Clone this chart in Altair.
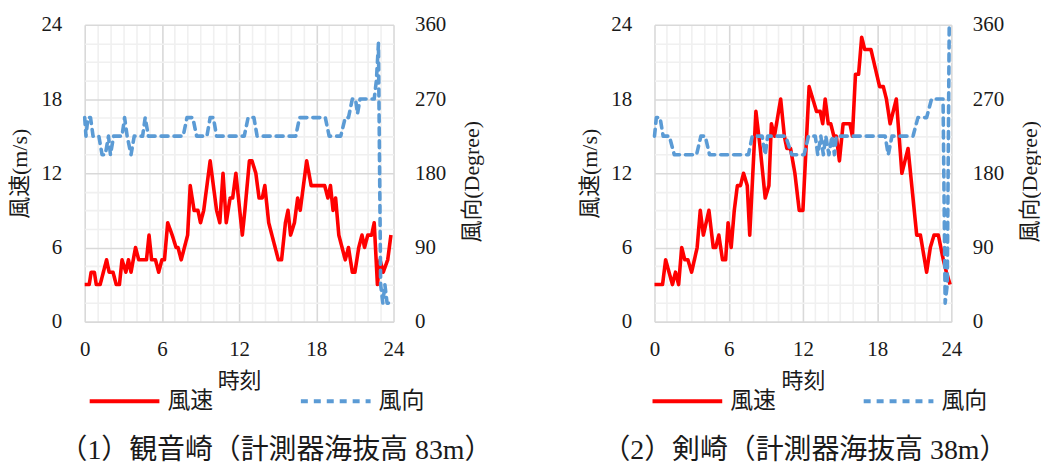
import altair as alt
import pandas as pd

# ---------------- data ----------------
SERIES = ["風速", "風向"]
COLORS = ["#FF0000", "#5B9BD5"]

# (1) 観音崎
t1_speed = [0, 0.35, 0.5, 0.75, 0.9, 1.2, 1.7, 1.9, 2.2, 2.45, 2.7, 2.9, 3.2, 3.4, 3.6,
            3.95, 4.2, 4.8, 5.0, 5.2, 5.5, 5.75, 6.0, 6.2, 6.45, 6.8, 7.1, 7.25, 7.5, 8.0,
            8.2, 8.5, 8.8, 9.0, 9.25, 9.75, 10.25, 10.5, 10.75, 11.0, 11.3, 11.5, 11.75,
            12.25, 12.45, 12.8, 13.0, 13.3, 13.55, 13.8, 14.0, 14.3, 15.05, 15.3, 15.6,
            15.8, 16.0, 16.3, 16.55, 16.75, 17.25, 17.6, 18.65, 18.9, 19.1, 19.3, 19.5,
            19.75, 20.25, 20.5, 20.8, 21.0, 21.3, 21.55, 21.75, 22.0, 22.3, 22.5, 22.75,
            22.95, 23.2, 23.55, 23.8]
v1_speed = [3, 3, 4, 4, 3, 3, 5, 4, 4, 3, 3, 5, 4, 5, 4,
            6, 5, 5, 7, 5, 5, 4, 5, 5, 8, 7, 6, 6, 5, 7,
            11, 9, 9, 8, 9, 13, 9, 8, 12, 8, 10, 10, 12,
            7, 9, 13, 13, 12, 10, 10, 11, 8, 5, 5, 8,
            9, 7, 8, 10, 9, 13, 11, 11, 10, 11, 9, 10,
            7, 5, 6, 4, 4, 6, 7, 6, 7, 7, 8, 3,
            5, 4, 5, 7]
t1_dir = [0, 0.1, 0.25, 0.45, 0.65, 1.1, 1.35, 1.6, 1.85, 2.0, 2.25, 2.9, 3.1, 3.3, 3.6,
          3.85, 4.5, 4.7, 4.95, 7.65, 7.95, 8.4, 8.7, 9.5, 9.75, 10.0, 10.25, 12.4, 12.7,
          13.15, 13.4, 16.4, 16.7, 18.7, 19.0, 19.9, 20.25, 20.5, 20.8, 21.05, 21.2, 21.4,
          22.5, 22.67, 22.83, 23.0, 23.17, 23.33, 23.5, 23.67, 23.83]
d1_dir = [247.5, 225, 247.5, 247.5, 225, 225, 202.5, 202.5, 225, 202.5, 225, 225, 247.5, 225, 202.5,
          225, 225, 247.5, 225, 225, 247.5, 247.5, 225, 225, 247.5, 247.5, 225, 225, 247.5,
          247.5, 225, 225, 247.5, 247.5, 225, 225, 247.5, 247.5, 270, 270, 252, 270,
          270, 292.5, 337.5, 45, 22.5, 45, 22.5, 22.5, 22.5]

# (2) 剣崎
t2_speed = [0, 0.65, 0.9, 1.45, 1.7, 1.95, 2.2, 2.45, 2.7, 3.0, 3.45, 3.7, 3.95, 4.4, 4.75,
            4.95, 5.2, 5.5, 5.75, 5.95, 6.2, 6.45, 6.7, 6.95, 7.2, 7.5, 7.7, 8.2, 8.55, 8.95,
            9.25, 9.45, 9.7, 10.2, 10.5, 10.7, 11.0, 11.35, 11.7, 12.0, 12.5, 12.8, 13.1,
            13.4, 13.6, 13.8, 14.05, 14.25, 14.5, 14.7, 14.95, 15.25, 15.8, 16.0, 16.25,
            16.5, 16.75, 17.0, 17.5, 18.2, 18.5, 18.75, 19.05, 19.55, 20.0, 20.5, 21.2,
            21.5, 22.0, 22.3, 22.6, 22.95, 23.35, 23.6, 23.9]
v2_speed = [3, 3, 5, 3, 4, 3, 6, 5, 5, 4, 6, 9, 7, 9, 6,
            6, 7, 5, 5, 8, 6, 9, 11, 11, 12, 11, 7, 17, 14, 10,
            11, 16, 15, 18, 15, 14, 14, 12, 9, 9, 19, 18, 17,
            17, 16, 18, 16, 16, 15, 15, 13, 16, 16, 15, 20,
            20, 23, 22, 22, 19, 19, 18, 16, 18, 12, 14, 7,
            7, 4, 6, 7, 7, 5, 4, 3]
t2_dir = [0, 0.15, 0.45, 0.7, 1.2, 1.6, 3.4, 3.75, 4.1, 4.45, 7.6, 7.9, 8.7, 8.95, 9.15,
          10.6, 11.1, 12.1, 12.45, 13.0, 13.2, 13.45, 13.65, 13.85, 14.1, 14.35, 14.55,
          14.7, 18.65, 18.9, 19.2, 20.9, 21.3, 22.0, 22.4, 23.33, 23.5, 23.67, 23.83]
d2_dir = [225, 247.5, 247.5, 225, 225, 202.5, 202.5, 225, 225, 202.5, 202.5, 225, 225, 202.5, 225,
          225, 202.5, 202.5, 225, 225, 202.5, 225, 202.5, 225, 202.5, 225, 202.5,
          225, 225, 202.5, 225, 225, 247.5, 247.5, 270, 270, 22.5, 45, 360]

X_TICKS = list(range(0, 25))
Y_TICKS = [i * 1.5 for i in range(17)]
D_TICKS = [0, 90, 180, 270, 360]

CAPTIONS = ["（1）観音崎（計測器海抜高 83m）", "（2）剣崎（計測器海抜高 38m）"]

FONT = "Liberation Serif, Noto Sans CJK JP, serif"
CJK = "Noto Sans CJK JP, sans-serif"
TXT = "#1a1a1a"
MAJOR = "#D9D9D9"
MINOR = "#F0F0F0"


def panel(t_s, v_s, t_d, d_d, width, caption, cap_dx, leg_x):
    df_s = pd.DataFrame({"t": t_s, "v": v_s, "系列": SERIES[0]})
    df_d = pd.DataFrame({"t": t_d, "v": d_d, "系列": SERIES[1]})

    grid_color = alt.condition("datum.value % 6 === 0", alt.value(MAJOR), alt.value(MINOR))
    x_axis = alt.Axis(values=X_TICKS,
                      labelExpr="datum.value % 6 === 0 ? datum.label : ''",
                      grid=True, gridColor=grid_color, gridWidth=1.6,
                      ticks=False, domain=False, labelOverlap=False, labelFlush=False,
                      labelPadding=17, titlePadding=11)
    x = alt.X("t:Q", scale=alt.Scale(domain=[0, 24], nice=False, zero=False),
              axis=x_axis, title="時刻")

    leg = alt.Legend(orient="none", legendX=leg_x, legendY=341, direction="horizontal",
                     symbolType="stroke", symbolSize=4900, symbolStrokeWidth=4,
                     labelFont=CJK, labelFontSize=23, labelColor=TXT,
                     labelOffset=6, columnPadding=80)
    color = alt.Color("系列:N", scale=alt.Scale(domain=SERIES, range=COLORS),
                      legend=leg, title=None)
    dash = alt.StrokeDash("系列:N", scale=alt.Scale(domain=SERIES, range=[[1, 0], [7, 6]]),
                          legend=leg, title=None)

    y_left = alt.Y("v:Q", scale=alt.Scale(domain=[0, 24], nice=False),
                   title="風速(m/s)",
                   axis=alt.Axis(values=Y_TICKS, orient="left",
                                 labelExpr="datum.value % 6 === 0 ? datum.label : ''",
                                 grid=True, gridColor=grid_color, gridWidth=1.6,
                                 ticks=False, domain=False, labelOverlap=False,
                                 labelFlush=False, labelPadding=23, titlePadding=9))
    y_right = alt.Y("v:Q", scale=alt.Scale(domain=[0, 360], nice=False),
                    title="風向(Degree)",
                    axis=alt.Axis(values=D_TICKS, orient="right", grid=False,
                                  ticks=False, domain=False, labelOverlap=False,
                                  labelFlush=False, labelPadding=21, titlePadding=16,
                                  titleAngle=270, titleBaseline="top", titleY=157))

    speed = alt.Chart(df_s).mark_line(strokeWidth=3.6, strokeJoin="round").encode(
        x=x, y=y_left, color=color, strokeDash=dash)
    direc = alt.Chart(df_d).mark_line(strokeWidth=3.6, strokeJoin="round", strokeCap="round").encode(
        x=x, y=y_right, color=color, strokeDash=dash)

    return alt.layer(speed, direc).resolve_scale(y="independent").properties(
        width=width, height=298,
        title=alt.TitleParams(caption, orient="bottom", anchor="middle", frame="group",
                              dx=cap_dx, offset=24, font=FONT, fontSize=28,
                              fontWeight="normal", color=TXT))


p1 = panel(t1_speed, v1_speed, t1_dir, d1_dir, 310, CAPTIONS[0], 37, 3)
p2 = panel(t2_speed, v2_speed, t2_dir, d2_dir, 298, CAPTIONS[1], 2, -4)

chart = alt.hconcat(p1, p2, spacing=262, bounds="flush").resolve_scale(
    color="independent", strokeDash="independent"
).properties(
    padding={"left": 1, "top": 5, "right": 0, "bottom": 0}
).configure(background="white").configure_view(stroke=None).configure_axis(
    labelFont=FONT, labelFontSize=21, labelColor=TXT,
    titleFont=FONT, titleFontSize=22, titleFontWeight="normal", titleColor=TXT
)

chart.save("out.html", embed_options={"renderer": "svg", "actions": False})
